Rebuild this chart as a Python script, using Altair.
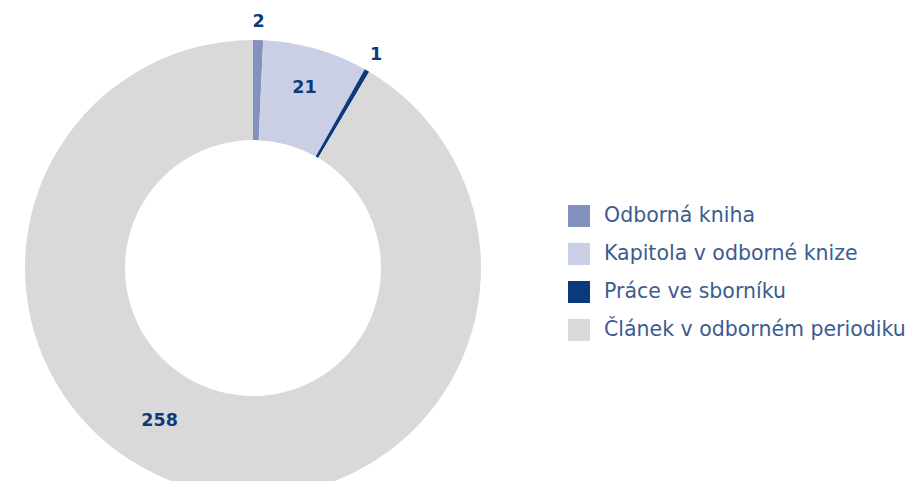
import altair as alt
import pandas as pd

categories = ["Odborná kniha", "Kapitola v odborné knize", "Práce ve sborníku", "Článek v odborném periodiku"]
values = [2, 21, 1, 258]
colors = ["#8291bd", "#cacfe6", "#0b3a7c", "#d9d9d9"]

df = pd.DataFrame({"cat": categories, "value": values, "order": list(range(len(categories)))})

CX, CY = 245, 260
R_OUT, R_IN = 228, 128

base = alt.Chart(df)

arcs = base.mark_arc(outerRadius=R_OUT, innerRadius=R_IN, stroke=None).encode(
    theta=alt.Theta("value:Q", stack=True),
    order=alt.Order("order:Q"),
    color=alt.Color(
        "cat:N",
        scale=alt.Scale(domain=categories, range=colors),
        sort=categories,
        legend=alt.Legend(
            title=None,
            orient="none",
            legendX=560,
            legendY=197,
            symbolType="square",
            symbolSize=484,
            symbolStrokeWidth=0,
            symbolOpacity=1,
            labelFontSize=20.5,
            labelFont="DejaVu Sans",
            labelColor="#3d5c8f",
            labelOffset=14,
            rowPadding=16,
            labelLimit=400,
        ),
    ),
    x=alt.value(CX),
    y=alt.value(CY),
)

lab = (
    base.transform_joinaggregate(total="sum(value)")
    .transform_window(cum="sum(value)", sort=[alt.SortField("order")], frame=[None, 0])
    .transform_calculate(
        mid="(datum.cum - datum.value/2) / datum.total * 2 * PI",
        r="datum.value < 5 ? 246 : 187",
    )
    .transform_calculate(
        px=f"{CX} + datum.r * sin(datum.mid)",
        py=f"{CY} - datum.r * cos(datum.mid)",
    )
)

text_style = dict(font="DejaVu Sans", fontWeight="bold", fontSize=17.5, color="#0d3b7a",
                  baseline="middle", align="center")

text_small = lab.transform_filter("datum.value < 100").mark_text(**text_style).encode(
    x=alt.X("px:Q", scale=None, axis=None),
    y=alt.Y("py:Q", scale=None, axis=None),
    text=alt.Text("value:Q"),
)

text_big = lab.transform_filter("datum.value >= 100").mark_text(dx=-44, dy=-27, **text_style).encode(
    x=alt.X("px:Q", scale=None, axis=None),
    y=alt.Y("py:Q", scale=None, axis=None),
    text=alt.Text("value:Q"),
)

chart = (
    alt.layer(arcs, text_small, text_big)
    .properties(width=903, height=473, padding=0, autosize=alt.AutoSizeParams(type="none"))
    .configure_view(strokeWidth=0)
)

chart.save("out.html", embed_options={"renderer": "svg", "actions": False})
